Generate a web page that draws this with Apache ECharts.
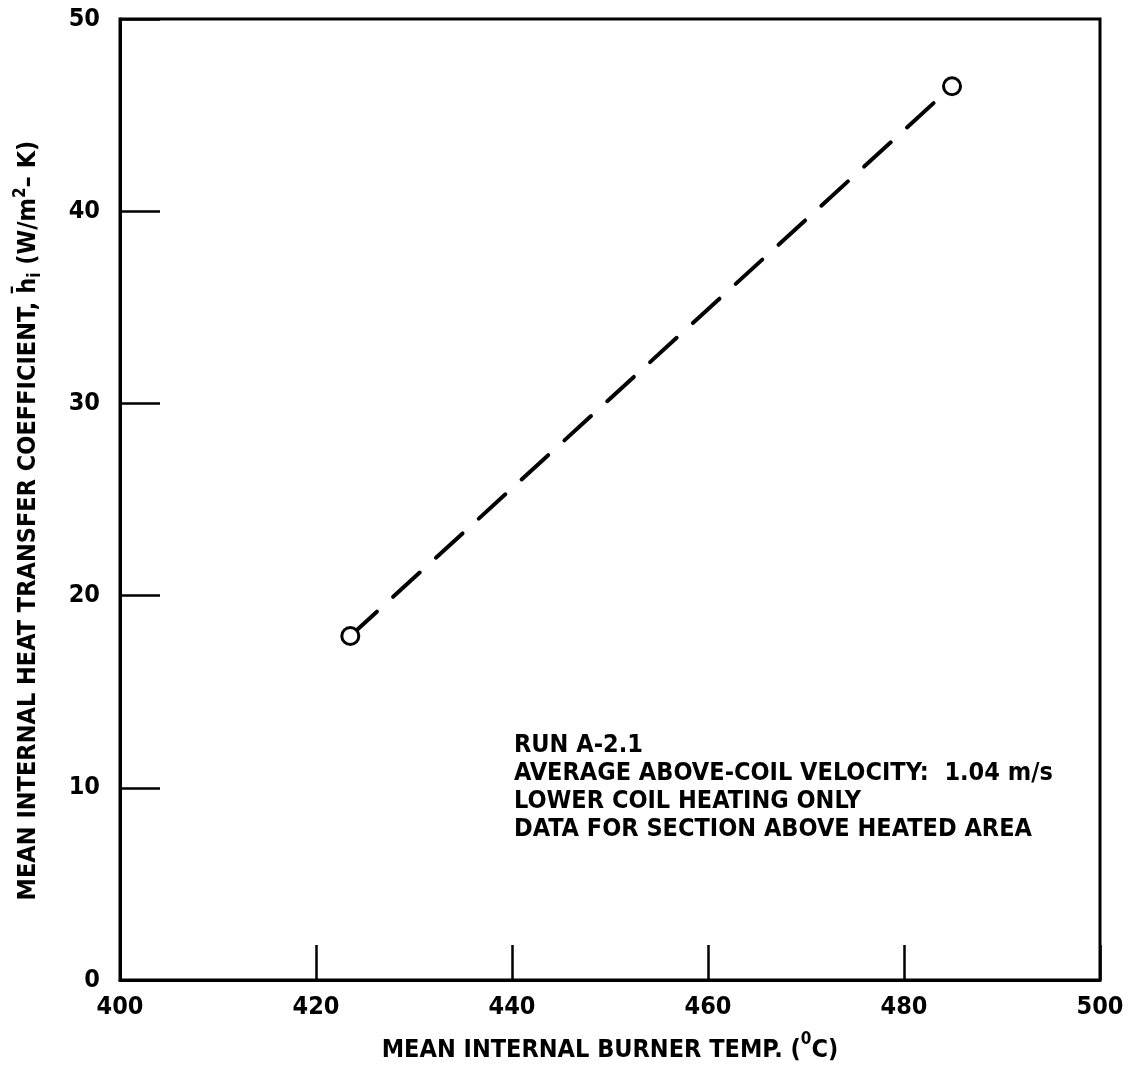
<!DOCTYPE html>
<html>
<head>
<meta charset="utf-8">
<script src="https://cdn.jsdelivr.net/npm/echarts@6/dist/echarts.min.js"></script>
<style>
html,body{margin:0;padding:0;background:#fff;}
#chart{width:1130px;height:1084px;}
</style>
</head>
<body>
<div id="chart"></div>
<script>
// Data
const burnerTemp = [423.5, 484.9];          // Mean internal burner temp (°C)
const heatCoeff = [17.9, 46.5];             // Mean internal heat transfer coefficient (W/m²-K)
const xTicks = [400, 420, 440, 460, 480, 500];
const yTicks = [0, 10, 20, 30, 40, 50];
const noteLines = [
  'RUN A-2.1',
  'AVERAGE ABOVE-COIL VELOCITY:  1.04 m/s',
  'LOWER COIL HEATING ONLY',
  'DATA FOR SECTION ABOVE HEATED AREA'
];

const FONT = '"Liberation Sans Narrow", "DejaVu Sans Condensed", "Roboto Condensed", sans-serif';
const FS = 25;
const chart = echarts.init(document.getElementById('chart'));

const points = burnerTemp.map((x, i) => [x, heatCoeff[i]]);

chart.setOption({
  backgroundColor: '#fff',
  animation: false,
  grid: {
    left: 120, right: 30, top: 19, bottom: 104,
    show: true, borderColor: '#000', borderWidth: 3
  },
  xAxis: {
    type: 'value',
    min: xTicks[0], max: xTicks[xTicks.length - 1], interval: 20,
    axisLine: { show: true, lineStyle: { color: '#000', width: 3 } },
    axisTick: { show: true, inside: true, length: 35, lineStyle: { color: '#000', width: 2.5 } },
    splitLine: { show: false },
    axisLabel: { color: '#000', fontFamily: FONT, fontWeight: 'bold', fontSize: FS, margin: 15 },
    name: '{a|MEAN INTERNAL BURNER TEMP. (}{sup|0}{a|C)}',
    nameLocation: 'middle',
    nameGap: 51,
    nameTextStyle: {
      rich: {
        a: { color: '#000', fontFamily: FONT, fontWeight: 'bold', fontSize: FS, lineHeight: 32, verticalAlign: 'bottom' },
        sup: { color: '#000', fontFamily: FONT, fontWeight: 'bold', fontSize: 17, lineHeight: 32, verticalAlign: 'top' }
      }
    }
  },
  yAxis: {
    type: 'value',
    min: yTicks[0], max: yTicks[yTicks.length - 1], interval: 10,
    axisLine: { show: true, lineStyle: { color: '#000', width: 3 } },
    axisTick: { show: true, inside: true, length: 40, lineStyle: { color: '#000', width: 2.5 } },
    splitLine: { show: false },
    axisLabel: { color: '#000', fontFamily: FONT, fontWeight: 'bold', fontSize: FS, margin: 20 },
    name: '{a|MEAN INTERNAL HEAT TRANSFER COEFFICIENT, h\u0304}{sub|i}{a| (W/m}{sup|2}{a|\u2013 K)}',
    nameLocation: 'middle',
    nameRotate: 90,
    nameGap: 76,
    nameTextStyle: {
      padding: [0, 42, 0, 0],
      rich: {
        a: { color: '#000', fontFamily: FONT, fontWeight: 'bold', fontSize: FS, lineHeight: 32, verticalAlign: 'middle' },
        sub: { color: '#000', fontFamily: FONT, fontWeight: 'bold', fontSize: 17, lineHeight: 32, verticalAlign: 'bottom' },
        sup: { color: '#000', fontFamily: FONT, fontWeight: 'bold', fontSize: 17, lineHeight: 32, verticalAlign: 'top' }
      }
    }
  },
  series: [{
    type: 'line',
    data: points,
    symbol: 'circle',
    symbolSize: 17,
    itemStyle: { color: '#fff', borderColor: '#000', borderWidth: 3 },
    lineStyle: { color: '#000', width: 4, type: [36, 22], cap: 'round' },
    z: 3
  }],
  graphic: [{
    type: 'text',
    left: 514,
    top: 731,
    style: {
      text: noteLines.join('\n'),
      fill: '#000',
      font: 'bold ' + FS + 'px ' + FONT,
      lineHeight: 28
    }
  }]
});
</script>
</body>
</html>
